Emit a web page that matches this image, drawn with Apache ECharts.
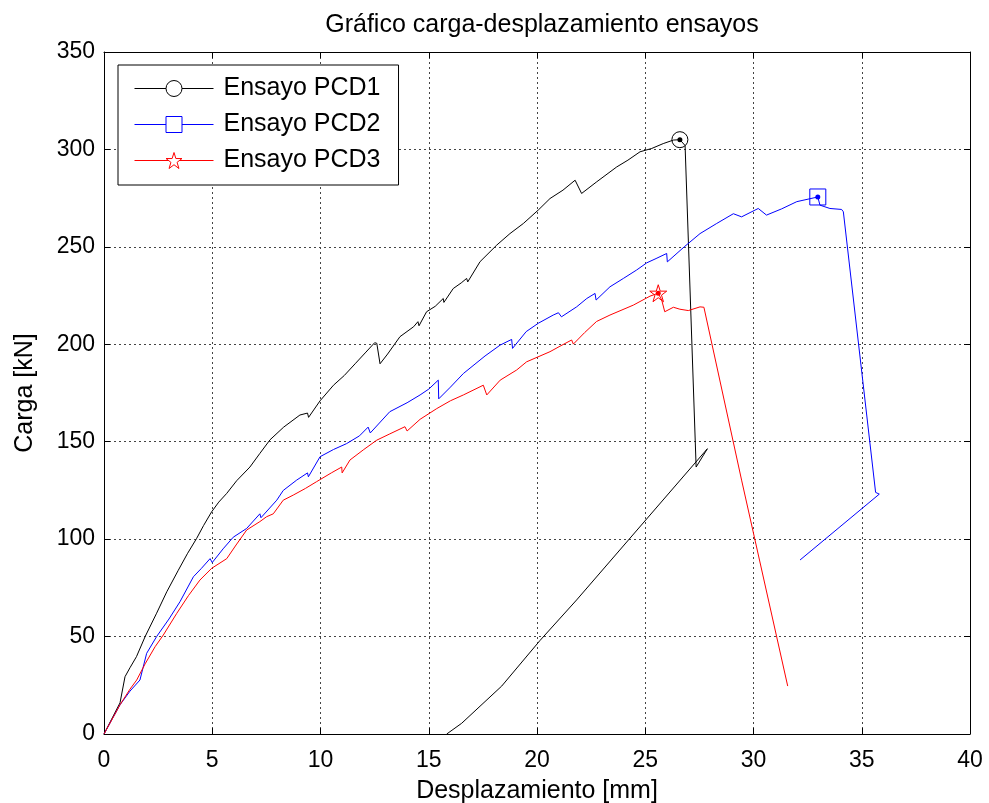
<!DOCTYPE html>
<html>
<head>
<meta charset="utf-8">
<script src="https://cdn.jsdelivr.net/npm/echarts@6/dist/echarts.min.js"></script>
<style>
  html, body { margin: 0; padding: 0; background: #fff; }
  #chart { width: 989px; height: 803px; }
</style>
</head>
<body>
<div id="chart"></div>
<script>
// datos: [desplazamiento mm, carga kN]
const pcd1 = [
  [0, 0], [0.74, 16], [0.97, 29.4], [1.2, 34], [1.5, 39.7], [1.9, 50], [2.43, 62], [2.9, 73],
  [3.43, 84], [3.85, 92.5], [4.28, 100.4], [4.6, 107], [4.97, 114], [5.3, 119], [5.67, 123.5],
  [6.13, 130], [6.74, 137], [7.2, 144], [7.67, 151], [8.3, 157.5], [9.05, 163.7], [9.4, 164.7],
  [9.45, 162.5], [9.98, 171], [10.6, 179], [11.1, 184], [11.6, 190], [12.1, 196], [12.5, 200.8],
  [12.6, 200.5], [12.75, 190], [13.1, 195], [13.67, 203.9], [14.3, 209], [14.5, 211.6],
  [14.55, 209.5], [14.9, 216.7], [15.3, 219.5], [15.67, 223.5], [15.7, 221.5], [16.13, 228.6],
  [16.5, 231.5], [16.75, 233.8], [16.8, 232], [17.37, 242.4], [18.14, 250.9], [18.75, 256.8],
  [19.37, 262], [20.06, 268.9], [20.6, 274.8], [21.2, 279.1], [21.76, 284.2], [22.06, 277.4],
  [22.76, 283.4], [23.68, 291], [24.2, 294.5], [24.76, 298.8], [25.3, 300.5], [25.83, 303],
  [26.3, 304.8], [26.6, 305], [26.84, 302], [27.35, 137], [27.87, 146.4], [21.83, 68.8],
  [20.14, 48], [18.37, 24.6], [16.52, 5.5], [15.83, 0]
];
const pcd2 = [
  [0, 0], [0.74, 15], [1.2, 22], [1.66, 27.7], [1.97, 41.4], [2.43, 50], [3.0, 59], [3.51, 67.9],
  [4.13, 80.7], [4.5, 85], [4.9, 90], [5.0, 88], [5.5, 95], [5.97, 101], [6.59, 105.5], [7.2, 113],
  [7.25, 111], [7.98, 120], [8.28, 125], [8.9, 130.3], [9.4, 134], [9.44, 132], [9.98, 142.3],
  [10.6, 146], [11.2, 149], [11.8, 153], [12.2, 157.5], [12.3, 154.5], [13.2, 165.4], [14.0, 170],
  [14.6, 174], [15.0, 177], [15.44, 181.6], [15.46, 172], [16.0, 178], [16.6, 185], [17.6, 194],
  [18.3, 199.6], [18.83, 202.5], [18.87, 197.9], [19.5, 206.5], [20.06, 210.8], [20.75, 215],
  [20.99, 216.2], [21.13, 214.1], [21.83, 219.2], [22.3, 223.5], [22.68, 226.1], [22.73, 222.7],
  [23.37, 229.5], [23.99, 233.8], [24.6, 238.1], [25.07, 241.8], [25.5, 244], [25.99, 246.6],
  [26.02, 242.3], [26.8, 250], [27.53, 256.8], [28.3, 262], [29.07, 267], [29.45, 265.4],
  [30.22, 269.7], [30.6, 266.3], [31.3, 269.5], [32, 273.2], [32.97, 275.6], [33.07, 271.4],
  [33.53, 269.7], [34.07, 269.2], [34.15, 268], [35.64, 124], [35.81, 123.1], [32.15, 89.3]
];
const pcd3 = [
  [0, 0], [0.74, 15], [1.2, 23], [1.51, 27.7], [1.9, 36], [2.36, 44.8], [2.74, 50.8], [3.36, 61.9],
  [3.9, 71], [4.43, 79], [4.97, 85], [5.67, 90], [6.1, 97], [6.59, 104.7], [7.2, 109],
  [7.51, 111.5], [7.82, 113], [8.28, 120], [8.74, 122.6], [9.3, 126], [9.82, 129.5], [10.5, 134],
  [10.98, 137], [11.0, 134], [11.36, 140.6], [12.0, 146], [12.6, 150.8], [13.2, 154],
  [13.9, 157.7], [14.0, 155.5], [14.6, 161.5], [15.37, 167], [16.0, 171], [16.6, 174],
  [17.52, 179], [17.68, 174], [18.3, 181.6], [19.06, 186.8], [19.52, 191], [20.6, 196.2],
  [21.06, 199], [21.6, 202.2], [21.68, 200.1], [22.2, 206], [22.75, 211.7], [23.37, 215],
  [24.45, 220.1], [25.22, 224.7], [25.6, 226.2], [25.76, 222.7], [25.9, 216.7], [25.99, 216.2],
  [26.3, 219], [26.6, 218], [26.99, 217.3], [27.53, 219.2], [27.71, 219], [29.45, 130.3],
  [31.58, 24.6]
];
// punto de carga maxima de cada ensayo
const peak1 = [26.6, 305];
const peak2 = [32.97, 275.6];
const peak3 = [25.6, 226.2];

const names = ['Ensayo PCD1', 'Ensayo PCD2', 'Ensayo PCD3'];
const colors = ['#000000', '#0000ff', '#ff0000'];

const xMin = 0, xMax = 40, xStep = 5;
const yMin = 0, yMax = 350, yStep = 50;

const font = 'Liberation Sans, Arial, sans-serif';
const starPath = 'path://M12,0 L14.8,8.5 L24,8.5 L16.6,13.8 L19.4,22.5 L12,17.2 L4.6,22.5 L7.4,13.8 L0,8.5 L9.2,8.5 Z';
const symbols = ['circle', 'rect', starPath];
const peaks = [peak1, peak2, peak3];
const datos = [pcd1, pcd2, pcd3];

let chart = echarts.init(document.getElementById('chart'), null, { renderer: 'canvas' });

const gridLine = { show: true, lineStyle: { color: '#444', type: [2, 3], width: 1 } };
const axisLine = { show: true, onZero: false, lineStyle: { color: '#000', width: 1 } };
const tick = { show: true, inside: true, length: 6, lineStyle: { color: '#000' } };

let series = datos.map((d, i) => ({
  name: names[i],
  type: 'line',
  data: d,
  symbol: symbols[i],
  showSymbol: false,
  color: colors[i],
  lineStyle: { color: colors[i], width: 1 },
  emphasis: { disabled: true },
  markPoint: {
    silent: true,
    label: { show: false },
    data: [
      {
        coord: peaks[i], symbol: symbols[i], symbolSize: i == 2 ? 17 : 16,
        itemStyle: { color: 'rgba(0,0,0,0)', borderColor: colors[i], borderWidth: 1 }
      },
      {
        coord: peaks[i], symbol: 'circle', symbolSize: 5,
        itemStyle: { color: colors[i], borderWidth: 0 }
      }
    ]
  }
}));

let option = {
  animation: false,
  backgroundColor: '#fff',
  title: {
    text: 'Gráfico carga-desplazamiento ensayos',
    left: 537,
    textAlign: 'center',
    top: 8,
    textStyle: { fontFamily: font, fontSize: 25, fontWeight: 'normal', color: '#000' }
  },
  legend: {
    left: 118,
    top: 65,
    orient: 'vertical',
    padding: [11, 18, 12, 16],
    itemGap: 11,
    itemWidth: 79,
    itemHeight: 20,
    borderColor: '#000',
    borderWidth: 1,
    backgroundColor: '#fff',
    textStyle: { fontFamily: font, fontSize: 25, color: '#000', padding: [0, 0, 0, 5] },
    data: names.map((n, i) => ({
      name: n,
      itemStyle: { color: '#fff', borderColor: colors[i], borderWidth: 1 },
      lineStyle: { color: colors[i], width: 1 }
    }))
  },
  grid: { left: 104, right: 19, top: 52, bottom: 69, containLabel: false, outerBoundsMode: 'none' },
  xAxis: [
    {
      type: 'value', min: xMin, max: xMax, interval: xStep, position: 'bottom',
      name: 'Desplazamiento [mm]', nameLocation: 'middle', nameGap: 45,
      nameTextStyle: { fontFamily: font, fontSize: 25, color: '#000' },
      axisLine, axisTick: tick, splitLine: gridLine,
      axisLabel: { fontFamily: font, fontSize: 23, color: '#000', margin: 15 }
    },
    {
      type: 'value', min: xMin, max: xMax, interval: xStep, position: 'top',
      axisLine, axisTick: tick, splitLine: { show: false }, axisLabel: { show: false }
    }
  ],
  yAxis: [
    {
      type: 'value', min: yMin, max: yMax, interval: yStep, position: 'left',
      name: 'Carga [kN]', nameLocation: 'middle', nameGap: 66,
      nameTextStyle: { fontFamily: font, fontSize: 25, color: '#000' },
      axisLine, axisTick: tick, splitLine: gridLine,
      axisLabel: { fontFamily: font, fontSize: 23, color: '#000', margin: 9 }
    },
    {
      type: 'value', min: yMin, max: yMax, interval: yStep, position: 'right',
      axisLine, axisTick: tick, splitLine: { show: false }, axisLabel: { show: false }
    }
  ],
  series
};

chart.setOption(option);
</script>
</body>
</html>
